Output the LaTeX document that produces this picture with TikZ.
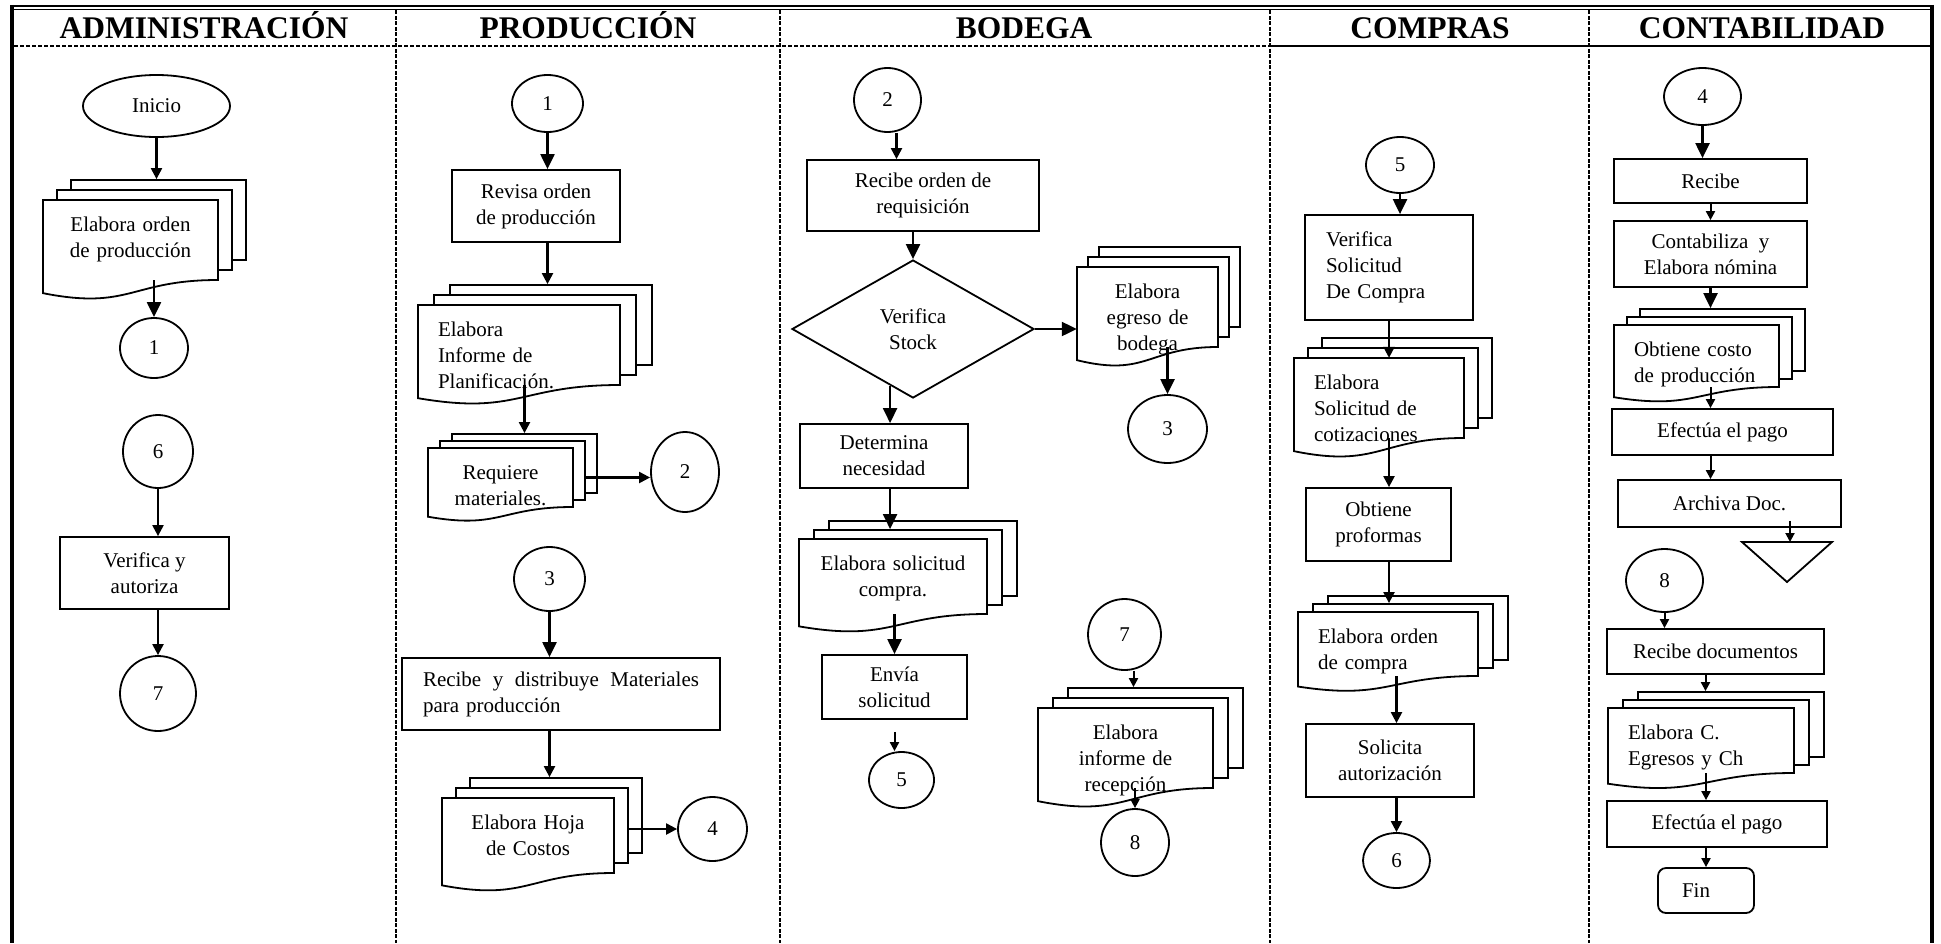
\documentclass[tikz,border=0pt]{standalone}
\usepackage{fontspec}
\setmainfont{Liberation Serif}
\usetikzlibrary{arrows.meta,shapes.geometric,calc}

\newcommand\bodyfont{\fontsize{21}{26}\selectfont}
\newcommand\headfont{\fontsize{31.5}{36}\selectfont\bfseries}

\tikzset{
  box/.style={draw, line width=1.8pt, fill=white, inner sep=0pt, align=center, font=\bodyfont},
  conn/.style={draw, ellipse, line width=1.8pt, fill=white, inner sep=0pt, font=\bodyfont},
  pg/.style={draw, line width=1.8pt, fill=white},
  doctext/.style={inner xsep=20pt, inner ysep=0pt, font=\bodyfont, anchor=base},
  arrb/.style={line width=2.2pt, -{Triangle[length=15pt,width=14pt]}},
  arr/.style={line width=2.2pt, -{Triangle[length=11pt,width=11pt]}},
  arrs/.style={line width=2pt, -{Triangle[length=9pt,width=9pt]}},
  lanehead/.style={font=\headfont, anchor=base, inner sep=0pt},
  lane/.style={line width=1.6pt, dash pattern=on 4pt off 1.5pt},
}

% process box from its corners: [options]{name}{x1}{y1}{x2}{y2}{text}
\newcommand\procbox[7][]{%
  \pgfmathsetmacro\pbW{#5-#3}\pgfmathsetmacro\pbH{#6-#4}%
  \pgfmathsetmacro\pbX{(#3+#5)/2}\pgfmathsetmacro\pbY{(#4+#6)/2}%
  \node[box, minimum width=\pbW pt, minimum height=\pbH pt, #1] (#2) at (\pbX,\pbY) {#7};}

% connector circle from its bounding box: {name}{x1}{y1}{x2}{y2}{label}
\newcommand\connector[6]{%
  \pgfmathsetmacro\cnW{#4-#2}\pgfmathsetmacro\cnH{#5-#3}%
  \pgfmathsetmacro\cnX{(#2+#4)/2}\pgfmathsetmacro\cnY{(#3+#5)/2}%
  \node[conn, minimum width=\cnW pt, minimum height=\cnH pt] (#1) at (\cnX,\cnY) {#6};}

% stack of three documents: {name}{x1}{y1}{x2}{y2 (right bottom)}{dx}{dy}{align}{text}
\newcommand\mdoc[9]{%
  \pgfmathsetmacro\mdW{#4-#2}\pgfmathsetmacro\mdH{#5-#3}%
  \pgfmathsetmacro\mdX{(#2+#4)/2}\pgfmathsetmacro\mdY{(#3+#5)/2}%
  \pgfmathsetmacro\mdL{#3+1.1646*(#5-#3)}\pgfmathsetmacro\mdC{#3+1.381*(#5-#3)}%
  \pgfmathsetmacro\mdT{\mdW-40}%
  \node[pg, inner sep=0pt, minimum width=\mdW pt, minimum height=\mdH pt] (#1b) at ({\mdX+2*#6},{\mdY-2*#7}) {};
  \node[pg, inner sep=0pt, minimum width=\mdW pt, minimum height=\mdH pt] (#1m) at ({\mdX+#6},{\mdY-#7}) {};
  \path[pg] (#2,#3) -- (#4,#3) -- (#4,#5) .. controls (\mdX,#5) and (\mdX,\mdC) .. (#2,\mdL) -- cycle;
  \node[inner sep=0pt, minimum width=\mdW pt, minimum height=\mdH pt] (#1) at (\mdX,\mdY) {};
  \node[doctext, text width=\mdT pt, align=#8] (#1t) at (\mdX,{#3+31}) {#9};}

\begin{document}
\begin{tikzpicture}[x=1pt,y=-1pt]
\useasboundingbox (0,0) rectangle (1941,943);

% frame and swimlanes
\draw[line width=2.2pt] (10,6) -- (1934,6);
\draw[line width=1.2pt] (14,9.8) -- (1930,9.8);
\draw[line width=4pt] (12,4.9) -- (12,943);
\draw[line width=4pt] (1932,4.9) -- (1932,943);
\foreach \lx in {396,780,1270,1589} \draw[lane] (\lx,10.4) -- (\lx,943);
\draw[line width=1.5pt, dash pattern=on 4pt off 2pt] (14,46) -- (1270,46);
\draw[line width=1.5pt] (1270,46) -- (1930,46);

\node[lanehead] (h1) at (204,38) {ADMINISTRACIÓN};
\node[lanehead] (h2) at (588,38) {PRODUCCIÓN};
\node[lanehead] (h3) at (1024,38) {BODEGA};
\node[lanehead] (h4) at (1430,38) {COMPRAS};
\node[lanehead] (h5) at (1762,38) {CONTABILIDAD};

% Administración
\connector{inicio}{83}{75}{230}{137}{Inicio}
\mdoc{d1}{43}{200}{218}{280}{14}{10}{center}{Elabora orden\\de producción}
\connector{a1}{120}{318}{188}{378}{1}
\connector{a6}{123}{415}{193}{488}{6}
\procbox{va}{60}{537}{229}{609}{Verifica y\\autoriza}
\connector{a7}{120}{656}{196}{731}{7}

% Producción
\connector{p1}{512}{75}{583}{132}{1}
\procbox{revisa}{452}{170}{620}{242}{Revisa orden\\de producción}
\mdoc{d2}{418}{305}{620}{385}{16}{10}{left}{Elabora\\Informe de\\Planificación.}
\mdoc{d3}{428}{448}{573}{507}{12}{7}{center}{Requiere\\materiales.}
\connector{p2}{651}{432}{719}{512}{2}
\connector{p3}{514}{547}{585}{611}{3}
\procbox[text width=276pt, align=left]{recibe}{402}{658}{720}{730}{Recibe\hfill y\hfill distribuye\hfill Materiales\\para producción}
\mdoc{d4}{442}{798}{614}{873}{14}{10}{center}{Elabora Hoja\\de Costos}
\connector{p4}{678}{797}{747}{861}{4}

% Bodega
\connector{b2}{854}{68}{921}{132}{2}
\procbox{ro}{807}{160}{1039}{231}{Recibe orden de\\requisición}
\node[box, diamond, minimum width=242pt, minimum height=138pt] (vs) at (913,329) {Verifica\\Stock};
\mdoc{d5}{1077}{267}{1218}{347}{11}{10}{center}{Elabora\\egreso de\\bodega}
\connector{b3}{1128}{395}{1207}{463}{3}
\procbox{det}{800}{424}{968}{488}{Determina\\necesidad}
\mdoc{d6}{799}{539}{987}{614}{15}{9}{center}{Elabora solicitud\\compra.}
\procbox{envia}{822}{655}{967}{719}{Envía\\solicitud}
\connector{b5}{869}{752}{934}{808}{5}
\connector{b7}{1088}{599}{1161}{670}{7}
\mdoc{d7}{1038}{708}{1213}{788}{15}{10}{center}{Elabora\\informe de\\recepción}
\connector{b8}{1101}{809}{1169}{876}{8}

% Compras
\connector{c5}{1366}{137}{1434}{193}{5}
\procbox[text width=126pt, align=left]{vsc}{1305}{215}{1473}{320}{Verifica\\Solicitud\\De Compra}
\mdoc{d8}{1294}{358}{1464}{438}{14}{10}{left}{Elabora\\Solicitud de\\cotizaciones}
\procbox{op}{1306}{488}{1451}{561}{Obtiene\\proformas}
\mdoc{d9}{1298}{612}{1478}{676}{15}{8}{left}{Elabora orden\\de compra}
\procbox{sa}{1306}{724}{1474}{797}{Solicita\\autorización}
\connector{c6}{1363}{833}{1430}{888}{6}

% Contabilidad
\connector{k4}{1664}{68}{1741}{125}{4}
\procbox{kr}{1614}{159}{1807}{203}{Recibe}
\procbox{kc}{1614}{221}{1807}{287}{Contabiliza\ \ y\\Elabora nómina}
\mdoc{d10}{1614}{325}{1779}{387}{13}{8}{left}{Obtiene costo\\de producción}
\procbox{ke}{1612}{409}{1833}{455}{Efectúa el pago}
\procbox{ka}{1618}{480}{1841}{527}{Archiva Doc.}
\draw[line width=1.8pt] (1742,542) -- (1832,542) -- (1787,582) -- cycle;
\coordinate (trtop) at (1790,542);
\connector{k8}{1626}{549}{1703}{612}{8}
\procbox{rd}{1607}{629}{1824}{674}{Recibe documentos}
\mdoc{d11}{1608}{708}{1794}{773}{15}{8}{left}{Elabora C.\\Egresos y Ch}
\procbox{ke2}{1607}{801}{1827}{847}{Efectúa el pago}
\procbox[rounded corners=8pt, text width=48pt, align=left]{fin}{1658}{868}{1754}{913}{Fin}

% connectors: Administración
\draw[arr] (inicio.south) -- (inicio.south |- d1b.north);
\draw[arrb] (a1.north |- d1.south) -- (a1.north);
\draw[arr] (a6.south) -- (a6.south |- va.north);
\draw[arr] (a7.north |- va.south) -- (a7.north);

% connectors: Producción
\draw[arrb] (p1.south) -- (p1.south |- revisa.north);
\draw[arr] (p1.south |- revisa.south) -- (p1.south |- d2b.north);
\draw[arr] (d3b.north |- d2.south) -- (d3b.north);
\draw[arr] (d3m.east |- d3.east) -- (d3.east -| p2.west);
\draw[arrb] (p3.south) -- (p3.south |- recibe.north);
\draw[arr] (p3.south |- recibe.south) -- (p3.south |- d4b.north);
\draw[arr] (d4m.east |- p4.west) -- (p4.west);

% connectors: Bodega
\coordinate (b2x) at ([xshift=9pt]b2.south);
\draw[arr] (b2x) -- (b2x |- ro.north);
\draw[arrb] (vs.north |- ro.south) -- (vs.north);
\draw[arrb] (vs.east) -- (vs.east -| d5.west);
\draw[arrb] (b3.north |- d5.south) -- (b3.north);
\draw[arrb] (vs.248) -- (vs.248 |- det.north);
\draw[arrb] (vs.248 |- det.south) -- (vs.248 |- d6m.north);
\draw[arrb] (envia.north |- d6.south) -- (envia.north);
\coordinate (e5) at ([yshift=-12pt]envia.south);
\draw[arrs] (e5) -- (e5 |- b5.north);
\coordinate (b7x) at ([xshift=9pt]b7.south);
\draw[arrs] (b7x) -- (b7x |- d7b.north);
\draw[arrs] (b8.north |- d7.south) -- (b8.north);

% connectors: Compras
\draw[arrb] (c5.south) -- (c5.south |- vsc.north);
\draw[arr] (vsc.south) -- (vsc.south |- d8.north);
\draw[arr] (vsc.south |- d8.south) -- (vsc.south |- op.north);
\draw[arr] (vsc.south |- op.south) -- (vsc.south |- d9m.north);
\draw[arr] (c6.north |- d9.south) -- (c6.north |- sa.north);
\draw[arr] (c6.north |- sa.south) -- (c6.north);

% connectors: Contabilidad
\draw[arrb] (k4.south) -- (k4.south |- kr.north);
\draw[arrs] (kr.south) -- (kc.north);
\draw[arrb] (kc.south) -- (kc.south |- d10b.north);
\draw[arrs] (kc.south |- d10.south) -- (kc.south |- ke.north);
\draw[arrs] (kc.south |- ke.south) -- (kc.south |- ka.north);
\coordinate (kaa) at ([yshift=7pt]ka.south);
\draw[arrs] (kaa -| trtop) -- (trtop);
\draw[arrs] (k8.south) -- (k8.south |- rd.north);
\coordinate (rdx) at ([xshift=-10pt]rd.south);
\draw[arrs] (rdx) -- (rdx |- d11b.north);
\draw[arrs] (fin.north |- d11.south) -- (fin.north |- ke2.north);
\draw[arrs] (fin.north |- ke2.south) -- (fin.north);
\end{tikzpicture}
\end{document}
